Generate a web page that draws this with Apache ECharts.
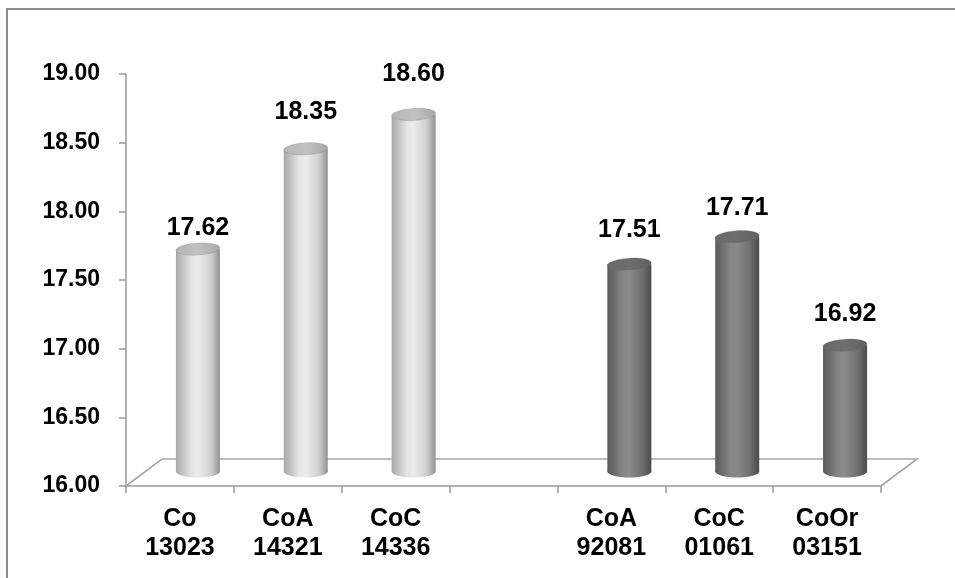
<!DOCTYPE html>
<html>
<head>
<meta charset="utf-8">
<script src="https://cdn.jsdelivr.net/npm/echarts@6/dist/echarts.min.js"></script>
<style>html,body{margin:0;padding:0;background:#fff;}#c{width:955px;height:578px;}</style>
</head>
<body>
<div id="c"></div>
<script>
const categories = ['Co\n13023', 'CoA\n14321', 'CoC\n14336', '', 'CoA\n92081', 'CoC\n01061', 'CoOr\n03151'];
const lightValues = [17.62, 18.35, 18.60, null, null, null, null];
const darkValues = [null, null, null, null, 17.51, 17.71, 16.92];
const yMin = 16, yMax = 19, yInterval = 0.5;

// styling: vertical gap (px) between bar top and its value label, per category
const labelLift = [21, 37, 40, 0, 34, 29, 31];

const FONT = "'Liberation Sans', Arial, sans-serif";
const DX = 18, DY = -14.5;      // bar depth offset (mid-depth)
const FDX = 36, FDY = -27;      // floor depth
const BAR_W = 44, RY = 6;

function toData(arr) {
  const out = [];
  arr.forEach((v, i) => { if (v != null) out.push([i, v]); });
  return out;
}

function grad(stops) {
  return new echarts.graphic.LinearGradient(0, 0, 1, 0, stops.map((c) => ({offset: c[0], color: c[1]})));
}
const lightBody = [[0, '#a8a8a8'], [0.35, '#e6e6e6'], [0.5, '#ececec'], [0.8, '#cfcfcf'], [1, '#929292']];
const lightTop = [[0, '#b4b4b4'], [0.5, '#c2c2c2'], [1, '#a8a8a8']];
const darkBody = [[0, '#5a5a5a'], [0.35, '#868686'], [0.5, '#8a8a8a'], [0.8, '#6e6e6e'], [1, '#4a4a4a']];
const darkTop = [[0, '#686868'], [0.5, '#6e6e6e'], [1, '#606060']];

function makeRender(bodyStops, topStops) {
  return function (params, api) {
    const i = api.value(0), v = api.value(1);
    const top = api.coord([i, v]);
    const base = api.coord([i, yMin]);
    const cx = top[0] + DX, ty = top[1] + DY, by = base[1] + DY;
    const rx = BAR_W / 2;
    return {
      type: 'group',
      children: [
        {type: 'ellipse', shape: {cx: cx, cy: by, rx: rx, ry: RY}, style: {fill: grad(bodyStops)}},
        {type: 'rect', shape: {x: cx - rx, y: ty, width: BAR_W, height: by - ty}, style: {fill: grad(bodyStops)}},
        {type: 'ellipse', shape: {cx: cx, cy: ty, rx: rx, ry: RY}, rotation: 0.06, originX: cx, originY: ty,
          style: {fill: grad(topStops), stroke: 'rgba(110,110,110,0.5)', lineWidth: 0.5}},
        {type: 'text', x: cx, y: ty - labelLift[i],
          style: {text: v.toFixed(2), font: 'bold 25px ' + FONT, fill: '#000', align: 'center', verticalAlign: 'middle'}}
      ]
    };
  };
}

function renderFloor(params, api) {
  const bw = api.size([1, 0])[0];
  const l = api.coord([0, yMin]);
  const r = api.coord([categories.length - 1, yMin]);
  const x0 = l[0] - bw / 2, x1 = r[0] + bw / 2, y0 = l[1];
  return {
    type: 'polyline',
    shape: {points: [[x0, y0], [x0 + FDX, y0 + FDY], [x1 + FDX, y0 + FDY], [x1, y0]]},
    style: {stroke: '#a6a6a6', lineWidth: 1.6, fill: null}
  };
}

const chart = echarts.init(document.getElementById('c'), null, {renderer: 'canvas'});
chart.setOption({
  animation: false,
  backgroundColor: '#fff',
  graphic: [{
    type: 'rect', shape: {x: 7, y: 9, width: 980, height: 600},
    style: {fill: 'none', stroke: '#8c8c8c', lineWidth: 2}, z: 0
  }],
  grid: {left: 126, right: 74, top: 74, bottom: 92},
  xAxis: {
    type: 'category', data: categories,
    axisLine: {lineStyle: {color: '#9a9a9a', width: 1.5}},
    axisTick: {show: true, length: 7, lineStyle: {color: '#9a9a9a', width: 1.5}},
    axisLabel: {interval: 0, margin: 19, color: '#000', fontFamily: FONT, fontWeight: 'bold', fontSize: 25, lineHeight: 29},
    splitLine: {show: false}
  },
  yAxis: {
    type: 'value', min: yMin, max: yMax, interval: yInterval,
    axisLine: {show: true, lineStyle: {color: '#9a9a9a', width: 1.5}},
    axisTick: {show: true, length: 7, lineStyle: {color: '#9a9a9a', width: 1.5}},
    axisLabel: {margin: 26, color: '#000', fontFamily: FONT, fontWeight: 'bold', fontSize: 23,
      formatter: v => v.toFixed(2)},
    splitLine: {show: false}
  },
  series: [
    {type: 'custom', name: 'floor', data: [[0, yMin]], renderItem: renderFloor, z: 1, silent: true},
    {type: 'custom', name: 'light', data: toData(lightValues), encode: {x: 0, y: 1},
      renderItem: makeRender(lightBody, lightTop), z: 3},
    {type: 'custom', name: 'dark', data: toData(darkValues), encode: {x: 0, y: 1},
      renderItem: makeRender(darkBody, darkTop), z: 3}
  ]
});
</script>
</body>
</html>
